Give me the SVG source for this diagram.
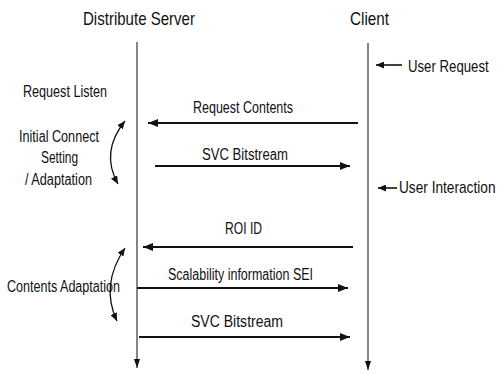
<svg xmlns="http://www.w3.org/2000/svg" width="498" height="374" viewBox="0 0 498 374">
  <style>
    text { font-family: "Liberation Sans Narrow", "Liberation Sans", Arial, sans-serif; fill: #111; }
    .title { font-size: 19px; }
    .lbl { font-size: 16px; }
    .life { stroke: #222; stroke-width: 1.1; fill: none; }
    .msg { stroke: #111; stroke-width: 1.8; fill: none; }
    .note { stroke: #111; stroke-width: 1.6; fill: none; }
    .curve { stroke: #111; stroke-width: 1.3; fill: none; }
  </style>
  <defs>
    <marker id="head" viewBox="0 0 10 8" refX="10" refY="4" markerWidth="10" markerHeight="8" markerUnits="userSpaceOnUse" orient="auto">
      <path d="M0,0 L10,4 L0,8 Z" fill="#111"/>
    </marker>
    <marker id="headSmall" viewBox="0 0 8 7" refX="8" refY="3.5" markerWidth="8" markerHeight="7" markerUnits="userSpaceOnUse" orient="auto">
      <path d="M0,0 L8,3.5 L0,7 Z" fill="#111"/>
    </marker>
    <marker id="headLife" viewBox="0 0 6 9" refX="3" refY="9" markerWidth="6" markerHeight="9" markerUnits="userSpaceOnUse" orient="0">
      <path d="M0,0 L6,0 L3,9 Z" fill="#111"/>
    </marker>
    <marker id="headCurve" viewBox="0 0 8 7" refX="8" refY="3.5" markerWidth="8" markerHeight="7" markerUnits="userSpaceOnUse" orient="auto-start-reverse">
      <path d="M0,0 L8,3.5 L0,7 Z" fill="#111"/>
    </marker>
  </defs>

  <!-- Participants -->
  <g id="server">
    <text class="title" x="83" y="25" textLength="112" lengthAdjust="spacingAndGlyphs">Distribute Server</text>
  </g>
  <g id="client">
    <text class="title" x="350" y="25" textLength="39" lengthAdjust="spacingAndGlyphs">Client</text>
  </g>

  <!-- Phase labels on the server side -->
  <g id="request-listen">
    <text class="lbl" x="23" y="97" textLength="84" lengthAdjust="spacingAndGlyphs">Request Listen</text>
  </g>
  <g id="initial-connect">
    <text class="lbl" x="19" y="142" textLength="80" lengthAdjust="spacingAndGlyphs">Initial Connect</text>
    <text class="lbl" x="41" y="163" textLength="37" lengthAdjust="spacingAndGlyphs">Setting</text>
    <text class="lbl" x="25" y="185" textLength="67" lengthAdjust="spacingAndGlyphs">/ Adaptation</text>
  </g>
  <g id="contents-adaptation">
    <text class="lbl" x="7" y="292" textLength="113" lengthAdjust="spacingAndGlyphs">Contents Adaptation</text>
  </g>

  <!-- Client-side events (condensed by scaling so they stay inside the right edge) -->
  <g id="user-request">
    <text class="lbl" transform="translate(408,72) scale(0.825,1)">User Request</text>
  </g>
  <g id="user-interaction">
    <text class="lbl" transform="translate(399,193) scale(0.855,1)">User Interaction</text>
  </g>

  <!-- Message labels -->
  <g id="labels">
    <text class="lbl" x="193" y="113" textLength="100" lengthAdjust="spacingAndGlyphs">Request Contents</text>
    <text class="lbl" x="202" y="160" textLength="86" lengthAdjust="spacingAndGlyphs">SVC Bitstream</text>
    <text class="lbl" x="225" y="234" textLength="37" lengthAdjust="spacingAndGlyphs">ROI ID</text>
    <text class="lbl" x="168" y="280" textLength="145" lengthAdjust="spacingAndGlyphs">Scalability information SEI</text>
    <text class="lbl" x="191" y="327" textLength="92" lengthAdjust="spacingAndGlyphs">SVC Bitstream</text>
  </g>

  <!-- Connectors -->
  <g id="connectors">
    <!-- lifelines -->
    <line class="life" x1="137" y1="42" x2="137" y2="368" marker-end="url(#headLife)"/>
    <line class="life" x1="368" y1="43" x2="368" y2="370" marker-end="url(#headLife)"/>

    <!-- messages -->
    <line class="msg" x1="358" y1="123" x2="148" y2="123" marker-end="url(#head)"/>
    <line class="msg" x1="155" y1="166" x2="350" y2="166" marker-end="url(#head)"/>
    <line class="msg" x1="353" y1="247" x2="143" y2="247" marker-end="url(#head)"/>
    <line class="msg" x1="137" y1="288" x2="348" y2="288" marker-end="url(#head)"/>
    <line class="msg" x1="139" y1="337" x2="350" y2="337" marker-end="url(#head)"/>

    <!-- external events at the client -->
    <line class="note" x1="402" y1="65" x2="376" y2="65" marker-end="url(#headSmall)"/>
    <line class="note" x1="397" y1="188" x2="378" y2="188" marker-end="url(#headSmall)"/>

    <!-- phase spans -->
    <path class="curve" d="M125,121 Q100,152 118,184" marker-start="url(#headCurve)" marker-end="url(#headCurve)"/>
    <path class="curve" d="M125,248 Q100,285 117,321" marker-start="url(#headCurve)" marker-end="url(#headCurve)"/>
  </g>
</svg>
